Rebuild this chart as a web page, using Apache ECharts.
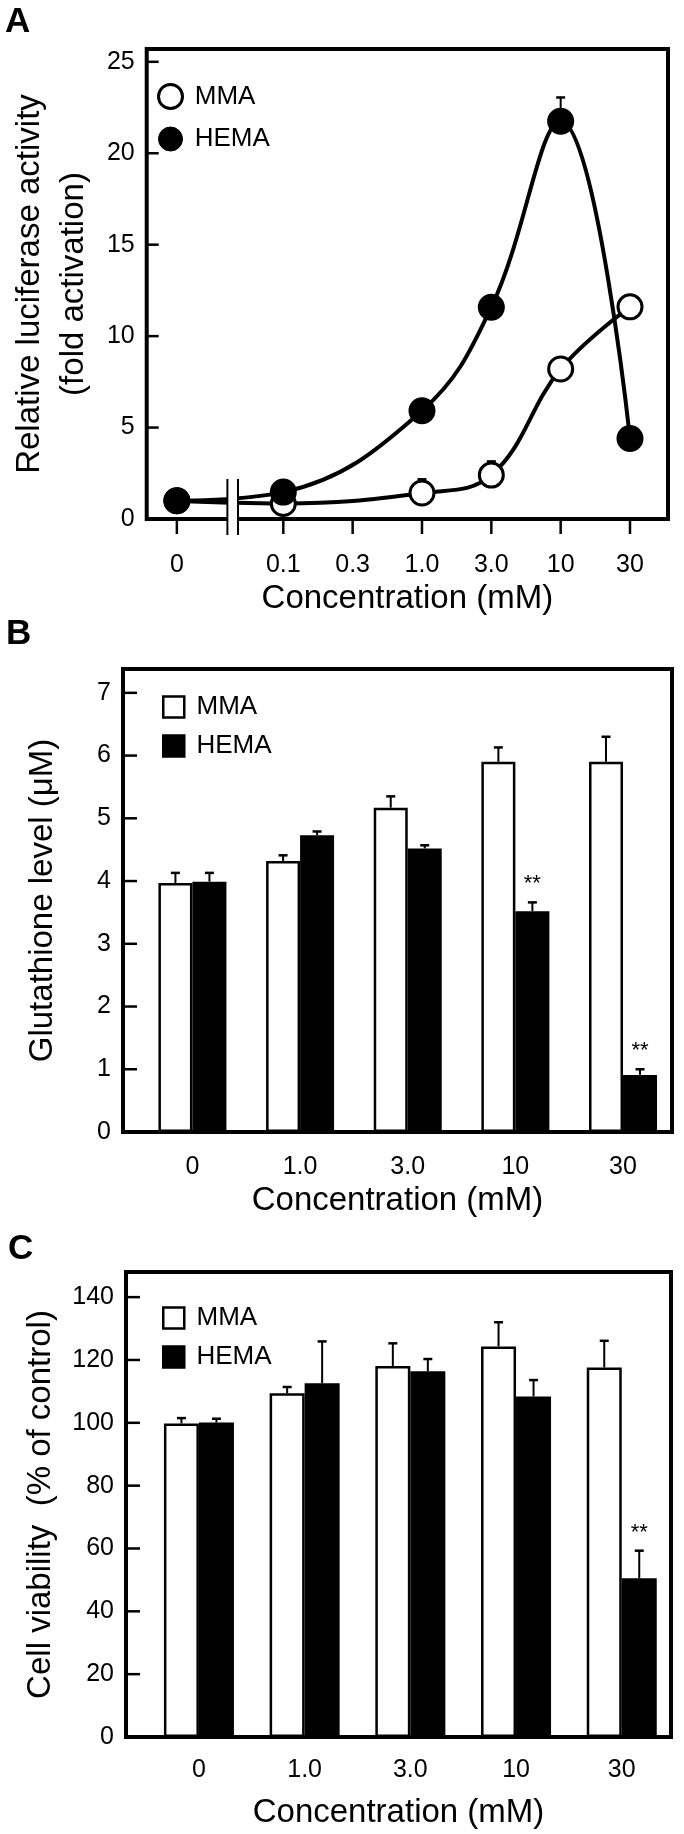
<!DOCTYPE html>
<html><head><meta charset="utf-8">
<script src="https://cdn.jsdelivr.net/npm/echarts@6/dist/echarts.min.js"></script>
<style>html,body{margin:0;padding:0;background:#fff;}#c{width:684px;height:1834px;}</style>
</head><body><div id="c"></div>
<script>
// ---------- Panel A: luciferase activity ----------
const concA = ['0', '0.1', '0.3', '1.0', '3.0', '10', '30'];
const yTicksA = [0, 5, 10, 15, 20, 25];
const mmaA = [1.0, 0.85, null, 1.42, 2.4, 8.2, 11.6];
const mmaAErr = [0.1, 0.1, null, 0.75, 0.75, 0.4, 0.2];
const hemaA = [1.0, 1.47, null, 5.92, 11.58, 21.75, 4.4];
const hemaAErr = [0.1, 0.15, null, 0.6, 0.4, 1.3, 0.2];

// ---------- Panel B: glutathione ----------
const concB = ['0', '1.0', '3.0', '10', '30'];
const yTicksB = [0, 1, 2, 3, 4, 5, 6, 7];
const mmaB = [3.97, 4.32, 5.17, 5.90, 5.90];
const mmaBErr = [0.16, 0.09, 0.18, 0.23, 0.40];
const hemaB = [3.99, 4.73, 4.52, 3.52, 0.91];
const hemaBErr = [0.14, 0.06, 0.05, 0.14, 0.09];
const sigB = ['', '', '', '**', '**'];

// ---------- Panel C: cell viability ----------
const concC = ['0', '1.0', '3.0', '10', '30'];
const yTicksC = [0, 20, 40, 60, 80, 100, 120, 140];
const mmaC = [99.8, 109.4, 118.1, 124.3, 117.6];
const mmaCErr = [1.7, 2.0, 7.2, 7.7, 8.5];
const hemaC = [100.1, 112.6, 116.4, 108.4, 50.5];
const hemaCErr = [1.2, 13.3, 3.9, 5.2, 8.8];
const sigC = ['', '', '', '', '**'];

// ---------- layout / style ----------
const FONT = '"Liberation Sans", Arial, Helvetica, sans-serif';
const ZERO_POS = -1.535;   // position of the "0" column left of the axis break
const BREAK_POS = -0.73;
const XA = [-1.97, 5.548], XB = [-0.645, 4.455], XC = [-0.69, 4.466];
const YA_MAX = 25.7, YB_MAX = 7.38, YC_MAX = 148;
const posA = concA.map((c, i) => i === 0 ? ZERO_POS : i - 1);
const barIdx = concB.map((c, i) => i);

function ptsA(vals) { const o = []; vals.forEach((v, i) => { if (v != null) o.push([posA[i], v]); }); return o; }
function errA(vals, errs) { const o = []; vals.forEach((v, i) => { if (v != null) o.push([posA[i], v, errs[i]]); }); return o; }

const axisLabelBase = { fontSize: 25, color: '#000', fontFamily: FONT };
const nameStyle = { fontSize: 33, color: '#000', fontFamily: FONT, lineHeight: 40 };
const noLine = { show: false, onZero: false };
const letterStyle = { fontSize: 35, fontWeight: 'bold', color: '#000', fontFamily: FONT };

function errRender(offset, capHalf) {
  return function (params, api) {
    const x = api.value(0), v = api.value(1), e = api.value(2);
    const p = api.coord([x, v]);
    const t = api.coord([x, v + e]);
    const cx = p[0] + offset;
    return { type: 'group', children: [
      { type: 'line', shape: { x1: cx, y1: p[1], x2: cx, y2: t[1] }, style: { stroke: '#000', lineWidth: 2 } },
      { type: 'line', shape: { x1: cx - capHalf, y1: t[1], x2: cx + capHalf, y2: t[1] }, style: { stroke: '#000', lineWidth: 2.5 } }
    ] };
  };
}
const sigList = { sigB: sigB, sigC: sigC };
function sigRender(offset) {
  return function (params, api) {
    const x = api.value(0), v = api.value(1), e = api.value(2);
    const t = api.coord([x, v + e]);
    const s = sigList[params.seriesName][params.dataIndex];
    return { type: 'text', x: t[0] + offset, y: t[1] - 7,
      style: { text: s, fill: '#000', font: '22px ' + FONT, textAlign: 'center', textVerticalAlign: 'bottom' } };
  };
}
function seg(x1, y1, x2, y2, w) {
  return { type: 'line', shape: { x1: x1, y1: y1, x2: x2, y2: y2 }, style: { stroke: '#000', lineWidth: w } };
}
// frame decorations (tick marks, axis break) placed through the axes' own scales
function decoSeries(gi, xMin, yTicks, yLen, xTicks, xLen, withBreak) {
  return {
    name: 'deco' + gi, type: 'custom', xAxisIndex: gi, yAxisIndex: gi, z: 20, clip: false, silent: true,
    data: [[xMin, 0]],
    renderItem: function (params, api) {
      const kids = [];
      yTicks.forEach(v => { const c = api.coord([xMin, v]); kids.push(seg(c[0], c[1], c[0] + yLen, c[1], 2.5)); });
      xTicks.forEach(p => { const c = api.coord([p, 0]); kids.push(seg(c[0], c[1], c[0], c[1] + xLen, 2.5)); });
      if (withBreak) {
        const c = api.coord([BREAK_POS, 0]);
        kids.push({ type: 'rect', shape: { x: c[0] - 5, y: c[1] - 40, width: 10, height: 56 }, style: { fill: '#fff' } });
        kids.push(seg(c[0] - 5.3, c[1] - 40, c[0] - 5.3, c[1] + 16, 2));
        kids.push(seg(c[0] + 5.3, c[1] - 40, c[0] + 5.3, c[1] + 16, 2));
      }
      return { type: 'group', children: kids };
    }
  };
}

const BW_B = 34, BW_C = 35;

function barLegend(top) {
  return {
    left: 162, top: top, padding: 0, orient: 'vertical', itemWidth: 21, itemHeight: 21, itemGap: 13,
    selectedMode: false, formatter: n => ' ' + n,
    textStyle: { fontSize: 26, color: '#000', fontFamily: FONT },
    data: [
      { name: 'MMA', icon: 'rect', itemStyle: { color: '#fff', borderColor: '#000', borderWidth: 2.5 } },
      { name: 'HEMA', icon: 'rect', itemStyle: { color: '#000', borderColor: '#000', borderWidth: 2.5 } }
    ]
  };
}

function yAxisCfg(grid, max, ticks, name, gap, extraName) {
  return {
    gridIndex: grid, type: 'value', min: 0, max: max,
    axisLine: noLine, splitLine: { show: false }, axisTick: { show: false },
    axisLabel: Object.assign({}, axisLabelBase, { margin: 12, customValues: ticks }),
    name: name, nameLocation: 'middle', nameGap: gap,
    nameTextStyle: Object.assign({}, nameStyle, extraName || {})
  };
}

const option = {
  animation: false,
  backgroundColor: '#fff',
  title: [
    { text: 'A', left: 5, top: 5, padding: 0, textStyle: letterStyle },
    { text: 'B', left: 6, top: 617, padding: 0, textStyle: letterStyle },
    { text: 'C', left: 8, top: 1232, padding: 0, textStyle: letterStyle }
  ],
  legend: [
    {
      left: 157, top: 83, padding: 0, orient: 'vertical', itemWidth: 24, itemHeight: 24, itemGap: 16,
      selectedMode: false, formatter: n => ' ' + n,
      textStyle: { fontSize: 26, color: '#000', fontFamily: FONT },
      data: [
        { name: 'MMA', icon: 'circle', itemStyle: { color: '#fff', borderColor: '#000', borderWidth: 3 } },
        { name: 'HEMA', icon: 'circle', itemStyle: { color: '#000', borderColor: '#000', borderWidth: 1 } }
      ]
    },
    barLegend(694),
    barLegend(1305)
  ],
  grid: [
    { left: 126, top: 49, width: 542, height: 470, show: true, borderColor: '#000', borderWidth: 4, backgroundColor: 'transparent', z: 10 },
    { left: 123, top: 669, width: 549, height: 463, show: true, borderColor: '#000', borderWidth: 4, backgroundColor: 'transparent', z: 10 },
    { left: 126, top: 1272, width: 545, height: 466, show: true, borderColor: '#000', borderWidth: 4, backgroundColor: 'transparent', z: 10 }
  ],
  xAxis: [
    {
      gridIndex: 0, type: 'value', min: XA[0], max: XA[1],
      axisLine: noLine, splitLine: { show: false }, axisTick: { show: false },
      axisLabel: Object.assign({}, axisLabelBase, { margin: 34, customValues: posA,
        formatter: v => { const i = posA.findIndex(p => Math.abs(p - v) < 1e-6); return i >= 0 ? concA[i] : ''; } }),
      name: 'Concentration (mM)', nameLocation: 'middle', nameGap: 54, nameTextStyle: nameStyle
    },
    {
      gridIndex: 1, type: 'value', min: XB[0], max: XB[1],
      axisLine: noLine, splitLine: { show: false }, axisTick: { show: false },
      axisLabel: Object.assign({}, axisLabelBase, { margin: 23, customValues: barIdx, formatter: v => concB[Math.round(v)] }),
      name: 'Concentration (mM)', nameLocation: 'middle', nameGap: 49, nameTextStyle: nameStyle
    },
    {
      gridIndex: 2, type: 'value', min: XC[0], max: XC[1],
      axisLine: noLine, splitLine: { show: false }, axisTick: { show: false },
      axisLabel: Object.assign({}, axisLabelBase, { margin: 21, customValues: barIdx, formatter: v => concC[Math.round(v)] }),
      name: 'Concentration (mM)', nameLocation: 'middle', nameGap: 56, nameTextStyle: nameStyle
    }
  ],
  yAxis: [
    yAxisCfg(0, YA_MAX, yTicksA, 'Relative luciferase activity\n(fold activation)', 39, { lineHeight: 44 }),
    yAxisCfg(1, YB_MAX, yTicksB, 'Glutathione level (μM)', 60),
    yAxisCfg(2, YC_MAX, yTicksC, 'Cell viability  (% of control)', 63)
  ],
  series: [
    // ----- A -----
    { name: 'errA1', type: 'custom', xAxisIndex: 0, yAxisIndex: 0, z: 1, silent: true, renderItem: errRender(0, 4.5), data: errA(mmaA, mmaAErr) },
    { name: 'errA2', type: 'custom', xAxisIndex: 0, yAxisIndex: 0, z: 1, silent: true, renderItem: errRender(0, 4.5), data: errA(hemaA, hemaAErr) },
    {
      name: 'MMA', type: 'line', xAxisIndex: 0, yAxisIndex: 0, z: 3, silent: true,
      data: ptsA(mmaA), smooth: 0.4, symbol: 'circle', symbolSize: 24, showSymbol: true,
      lineStyle: { color: '#000', width: 4 },
      itemStyle: { color: '#fff', borderColor: '#000', borderWidth: 3 }
    },
    {
      name: 'HEMA', type: 'line', xAxisIndex: 0, yAxisIndex: 0, z: 4, silent: true,
      data: ptsA(hemaA), smooth: 0.4, symbol: 'circle', symbolSize: 27, showSymbol: true,
      lineStyle: { color: '#000', width: 4 },
      itemStyle: { color: '#000', borderWidth: 0 }
    },
    decoSeries(0, XA[0], yTicksA, 12, posA, 15, true),
    // ----- B -----
    {
      name: 'MMA', type: 'bar', xAxisIndex: 1, yAxisIndex: 1, barWidth: BW_B, barGap: '0%', silent: true,
      data: mmaB.map((v, i) => [i, v]),
      itemStyle: { color: '#fff', borderColor: '#000', borderWidth: 2.5 }
    },
    {
      name: 'HEMA', type: 'bar', xAxisIndex: 1, yAxisIndex: 1, barWidth: BW_B, barGap: '0%', silent: true,
      data: hemaB.map((v, i) => [i, v]),
      itemStyle: { color: '#000', borderColor: '#000', borderWidth: 2.5 }
    },
    { name: 'errB1', type: 'custom', xAxisIndex: 1, yAxisIndex: 1, z: 3, silent: true, renderItem: errRender(-BW_B / 2, 4.5), data: mmaB.map((v, i) => [i, v, mmaBErr[i]]) },
    { name: 'errB2', type: 'custom', xAxisIndex: 1, yAxisIndex: 1, z: 3, silent: true, renderItem: errRender(BW_B / 2, 4.5), data: hemaB.map((v, i) => [i, v, hemaBErr[i]]) },
    { name: 'sigB', type: 'custom', xAxisIndex: 1, yAxisIndex: 1, z: 3, silent: true, renderItem: sigRender(BW_B / 2), data: hemaB.map((v, i) => [i, v, hemaBErr[i]]) },
    decoSeries(1, XB[0], yTicksB, 14, [], 0, false),
    // ----- C -----
    {
      name: 'MMA', type: 'bar', xAxisIndex: 2, yAxisIndex: 2, barWidth: BW_C, barGap: '0%', silent: true,
      data: mmaC.map((v, i) => [i, v]),
      itemStyle: { color: '#fff', borderColor: '#000', borderWidth: 2.5 }
    },
    {
      name: 'HEMA', type: 'bar', xAxisIndex: 2, yAxisIndex: 2, barWidth: BW_C, barGap: '0%', silent: true,
      data: hemaC.map((v, i) => [i, v]),
      itemStyle: { color: '#000', borderColor: '#000', borderWidth: 2.5 }
    },
    { name: 'errC1', type: 'custom', xAxisIndex: 2, yAxisIndex: 2, z: 3, silent: true, renderItem: errRender(-BW_C / 2, 4.5), data: mmaC.map((v, i) => [i, v, mmaCErr[i]]) },
    { name: 'errC2', type: 'custom', xAxisIndex: 2, yAxisIndex: 2, z: 3, silent: true, renderItem: errRender(BW_C / 2, 4.5), data: hemaC.map((v, i) => [i, v, hemaCErr[i]]) },
    { name: 'sigC', type: 'custom', xAxisIndex: 2, yAxisIndex: 2, z: 3, silent: true, renderItem: sigRender(BW_C / 2), data: hemaC.map((v, i) => [i, v, hemaCErr[i]]) },
    decoSeries(2, XC[0], yTicksC, 14, [], 0, false)
  ]
};

const chart = echarts.init(document.getElementById('c'), null, { renderer: 'canvas' });
chart.setOption(option);
</script>
</body></html>
